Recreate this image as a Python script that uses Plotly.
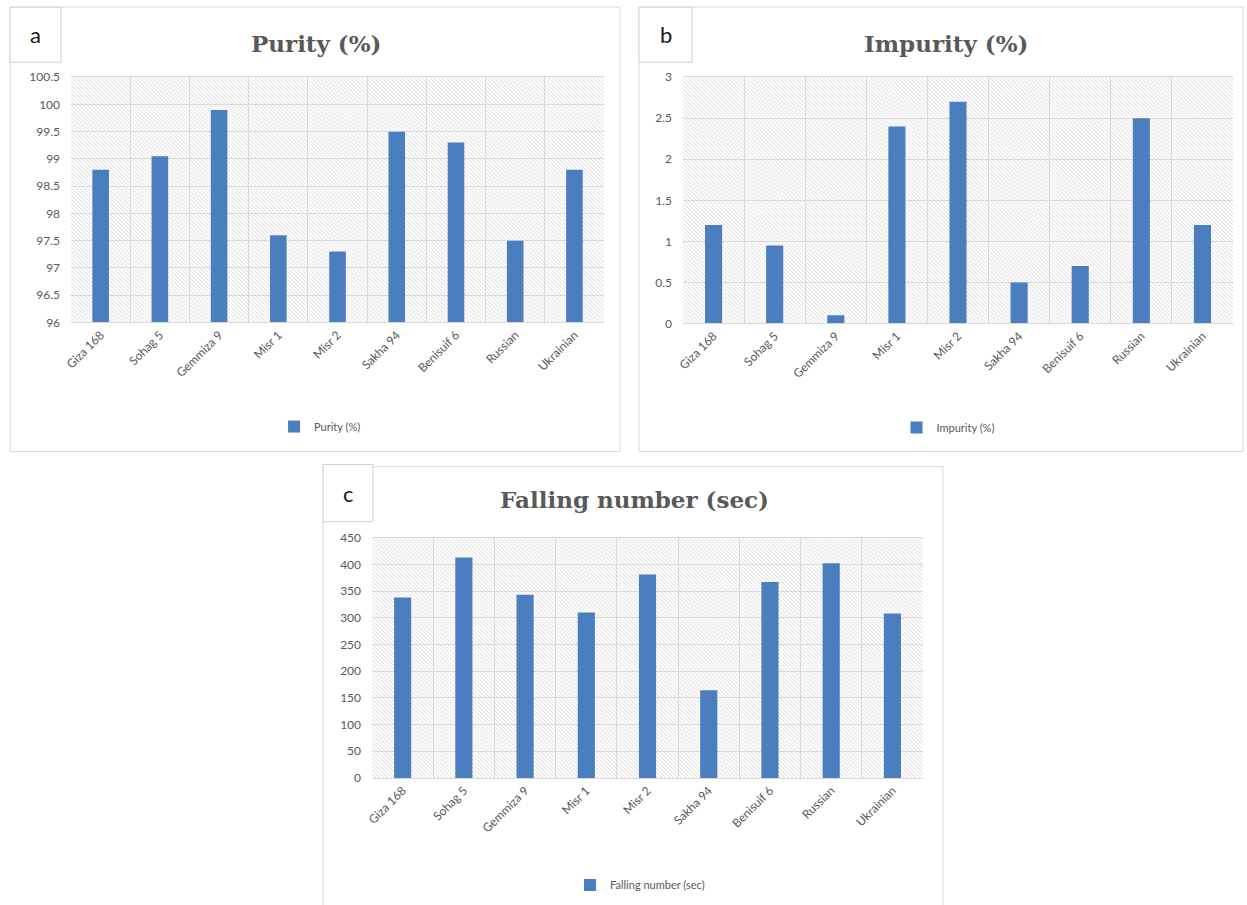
import base64
import plotly.graph_objects as go

# Screen placement: page body margin and the capture scale of the viewer
BODY = 8
SX, SY = 1247 / 1255, 905 / 921
W, H = 1247, 913

# Wheat varieties and measured quality indicators
varieties = ["Giza 168", "Sohag 5", "Gemmiza 9", "Misr 1", "Misr 2",
             "Sakha 94", "Benisuif 6", "Russian", "Ukrainian"]
purity = [98.8, 99.05, 99.9, 97.6, 97.3, 99.5, 99.3, 97.5, 98.8]
impurity = [1.2, 0.95, 0.1, 2.4, 2.7, 0.5, 0.7, 2.5, 1.2]
falling_number = [338, 413, 343, 310, 381, 164, 367, 402, 308]

BAR = "#4a7ebf"
GRID = "#d9d9d9"
TXT = "#595959"
TICK_FONT = "Lato, Liberation Sans, sans-serif"


def fig_px_x(v):
    return v / SX - BODY


def fig_px_y(v):
    return v / SY - BODY


def px_x(v):
    return fig_px_x(v) / W


def px_y(v):
    return 1 - fig_px_y(v) / H


def hatch_uri(w, h):
    svg = (
        f'<svg xmlns="http://www.w3.org/2000/svg" width="{w:.0f}" height="{h:.0f}">'
        '<defs><pattern id="p" width="4" height="4" patternUnits="userSpaceOnUse">'
        '<rect width="4" height="4" fill="#ffffff"/>'
        '<path d="M-1,-1 L5,5 M-1,3 L1,5 M3,-1 L5,1" stroke="#d8d8d8" stroke-width="1"/>'
        '</pattern></defs>'
        f'<rect width="{w:.0f}" height="{h:.0f}" fill="url(#p)"/></svg>'
    )
    return "data:image/svg+xml;base64," + base64.b64encode(svg.encode()).decode()


panels = [
    dict(name="Purity (%)", values=purity, rng=[96, 100.5], dtick=0.5,
         plot=(71, 77, 604, 322), frame=(10, 7, 620, 451), letter="a",
         letter_box=(10, 7, 61, 62), title_xy=(316, 43), legend_xy=(320, 426)),
    dict(name="Impurity (%)", values=impurity, rng=[0, 3], dtick=0.5,
         plot=(683, 77, 1233, 323), frame=(639, 7, 1243, 451), letter="b",
         letter_box=(639, 7, 692, 62), title_xy=(946, 43), legend_xy=(948, 427)),
    dict(name="Falling number (sec)", values=falling_number, rng=[0, 450], dtick=50,
         plot=(372, 537, 923, 777), frame=(323, 466, 943, 910), letter="c",
         letter_box=(323, 464, 373, 521), title_xy=(634, 499), legend_xy=(640, 884)),
]

fig = go.Figure()
shapes, annotations, images = [], [], []

for i, p in enumerate(panels, start=1):
    suffix = "" if i == 1 else str(i)
    x0, y0, x1, y1 = p["plot"]
    legend_name = "legend" if i == 1 else f"legend{i}"

    fig.add_trace(go.Bar(
        x=varieties, y=p["values"], name=p["name"],
        marker=dict(color=BAR, line=dict(width=0)),
        xaxis=f"x{suffix}", yaxis=f"y{suffix}",
        legend=legend_name, showlegend=True,
    ))

    fig.update_layout(**{
        f"xaxis{suffix}": dict(
            domain=[px_x(x0), px_x(x1)], anchor=f"y{suffix}",
            type="category", tickson="boundaries",
            showgrid=True, gridcolor=GRID, gridwidth=1,
            showline=True, linecolor=GRID, linewidth=1, mirror=True,
            ticks="", tickangle=-45,
            tickfont=dict(family=TICK_FONT, size=12, color=TXT),
            fixedrange=True,
        ),
        f"yaxis{suffix}": dict(
            domain=[px_y(y1), px_y(y0)], anchor=f"x{suffix}",
            range=p["rng"], dtick=p["dtick"], tick0=p["rng"][0],
            showgrid=True, gridcolor=GRID, gridwidth=1,
            zeroline=False, showline=False, ticks="",
            ticklabelstandoff=10,
            tickfont=dict(family=TICK_FONT, size=12, color=TXT),
            fixedrange=True,
        ),
        legend_name: dict(
            x=px_x(p["legend_xy"][0]), y=px_y(p["legend_xy"][1]),
            xanchor="center", yanchor="middle", orientation="h",
            font=dict(family=TICK_FONT, size=11, color=TXT),
            bgcolor="rgba(0,0,0,0)", itemwidth=30,
        ),
    })

    # hatched plot-area background
    w_img = fig_px_x(x1) - fig_px_x(x0)
    h_img = fig_px_y(y1) - fig_px_y(y0)
    images.append(dict(
        source=hatch_uri(w_img, h_img), xref="paper", yref="paper",
        x=px_x(x0), y=px_y(y0), sizex=w_img / W, sizey=h_img / H,
        xanchor="left", yanchor="top", sizing="stretch", layer="below",
    ))

    # chart-area frame
    fx0, fy0, fx1, fy1 = p["frame"]
    shapes.append(dict(type="rect", xref="paper", yref="paper",
                       x0=px_x(fx0), x1=px_x(fx1), y0=px_y(fy1), y1=px_y(fy0),
                       line=dict(color="#d9d9d9", width=1), layer="below"))
    # panel letter box
    lx0, ly0, lx1, ly1 = p["letter_box"]
    shapes.append(dict(type="rect", xref="paper", yref="paper",
                       x0=px_x(lx0), x1=px_x(lx1), y0=px_y(ly1), y1=px_y(ly0),
                       line=dict(color="#cfcfcf", width=1), fillcolor="white"))
    annotations.append(dict(
        text=p["letter"], xref="paper", yref="paper",
        x=px_x((lx0 + lx1) / 2), y=px_y((ly0 + ly1) / 2),
        xanchor="center", yanchor="middle", showarrow=False,
        font=dict(family=TICK_FONT, size=22, color="#1a1a1a"),
    ))
    # chart title
    annotations.append(dict(
        text=f"<b>{p['name']}</b>", xref="paper", yref="paper",
        x=px_x(p["title_xy"][0]), y=px_y(p["title_xy"][1]),
        xanchor="center", yanchor="middle", showarrow=False,
        font=dict(family="DejaVu Serif, serif", size=23, color=TXT),
    ))

fig.update_layout(
    width=W, height=H,
    margin=dict(l=0, r=0, t=0, b=0),
    paper_bgcolor="white", plot_bgcolor="rgba(0,0,0,0)",
    bargap=0.72,
    shapes=shapes, annotations=annotations, images=images,
)

fig.write_html("out.html")
